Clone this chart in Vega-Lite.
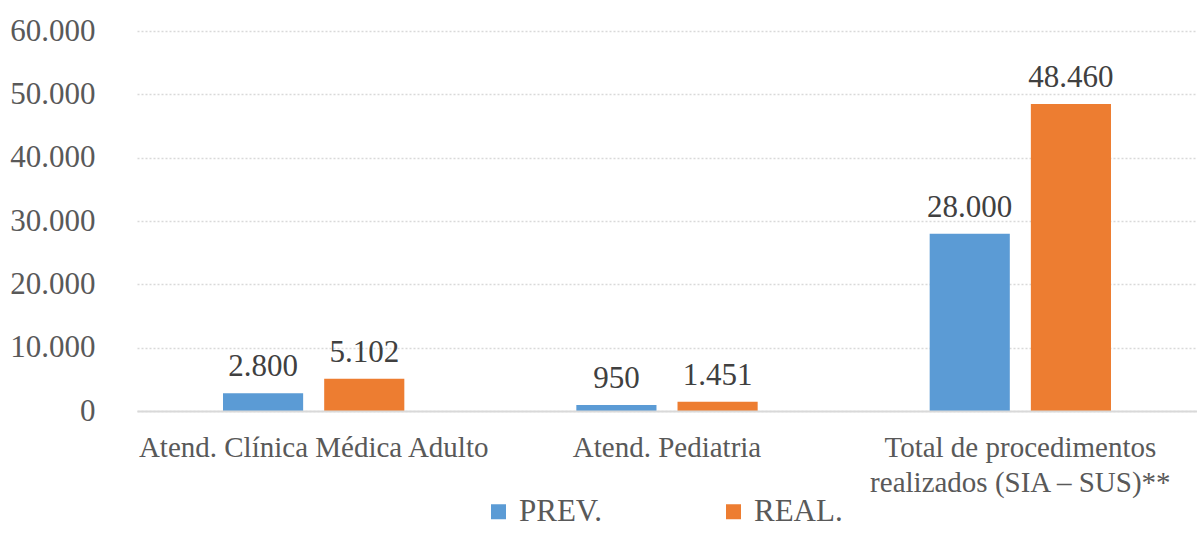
{
  "$schema": "https://vega.github.io/schema/vega-lite/v6.json",
  "width": 1060,
  "height": 380,
  "autosize": {"type": "none"},
  "padding": {"left": 137, "top": 31, "right": 0, "bottom": 124},
  "background": "white",
  "config": {
    "locale": {"number": {"decimal": ",", "thousands": ".", "grouping": [3], "currency": ["R$", ""]}},
    "view": {"stroke": null},
    "font": "Liberation Serif"
  },
  "data": {
    "values": [
      {"categoria": "Atend. Clínica Médica Adulto", "serie": "PREV.", "valor": 2800},
      {"categoria": "Atend. Clínica Médica Adulto", "serie": "REAL.", "valor": 5102},
      {"categoria": "Atend. Pediatria", "serie": "PREV.", "valor": 950},
      {"categoria": "Atend. Pediatria", "serie": "REAL.", "valor": 1451},
      {"categoria": "Total de procedimentos realizados (SIA – SUS)**", "serie": "PREV.", "valor": 28000},
      {"categoria": "Total de procedimentos realizados (SIA – SUS)**", "serie": "REAL.", "valor": 48460}
    ]
  },
  "encoding": {
    "x": {
      "field": "categoria",
      "type": "nominal",
      "sort": null,
      "scale": {"paddingInner": 0, "paddingOuter": 0},
      "axis": {
        "title": null,
        "labelAngle": 0,
        "labelFont": "Liberation Serif",
        "labelFontSize": 29,
        "labelColor": "#595959",
        "labelPadding": 22,
        "labelLineHeight": 35,
        "labelLimit": 0,
        "ticks": false,
        "domainColor": "#d9d9d9",
        "domainWidth": 2,
        "zindex": 1,
        "labelExpr": "datum.value == 'Total de procedimentos realizados (SIA – SUS)**' ? ['Total de procedimentos', 'realizados (SIA – SUS)**'] : datum.value"
      }
    },
    "xOffset": {
      "field": "serie",
      "type": "nominal",
      "sort": ["PREV.", "REAL."],
      "scale": {"paddingInner": 0.208, "paddingOuter": 0.85}
    },
    "y": {
      "field": "valor",
      "type": "quantitative",
      "scale": {"domain": [0, 60000]},
      "axis": {
        "title": null,
        "values": [0, 10000, 20000, 30000, 40000, 50000, 60000],
        "labelExpr": "replace(format(datum.value, ','), ',', '.')",
        "domain": false,
        "ticks": false,
        "labelPadding": 42,
        "labelFont": "Liberation Serif",
        "labelFontSize": 31,
        "labelColor": "#595959",
        "gridColor": "#d9d9d9",
        "gridDash": [2, 2],
        "gridWidth": 1.3
      }
    }
  },
  "layer": [
    {
      "mark": {"type": "bar"},
      "encoding": {
        "color": {
          "field": "serie",
          "type": "nominal",
          "sort": ["PREV.", "REAL."],
          "scale": {"domain": ["PREV.", "REAL."], "range": ["#5B9BD5", "#ED7D31"]},
          "legend": {
            "title": null,
            "orient": "none",
            "legendX": 346,
            "legendY": 465,
            "direction": "horizontal",
            "symbolType": "square",
            "symbolSize": 225,
            "symbolStrokeWidth": 0,
            "labelFont": "Liberation Serif",
            "labelFontSize": 31,
            "labelColor": "#595959",
            "labelOffset": 5,
            "columnPadding": 116
          }
        }
      }
    },
    {
      "mark": {"type": "text", "dy": -17, "baseline": "alphabetic", "fontSize": 31, "font": "Liberation Serif", "color": "#404040"},
      "encoding": {
        "text": {"field": "valor", "type": "quantitative", "format": ","}
      }
    }
  ]
}
